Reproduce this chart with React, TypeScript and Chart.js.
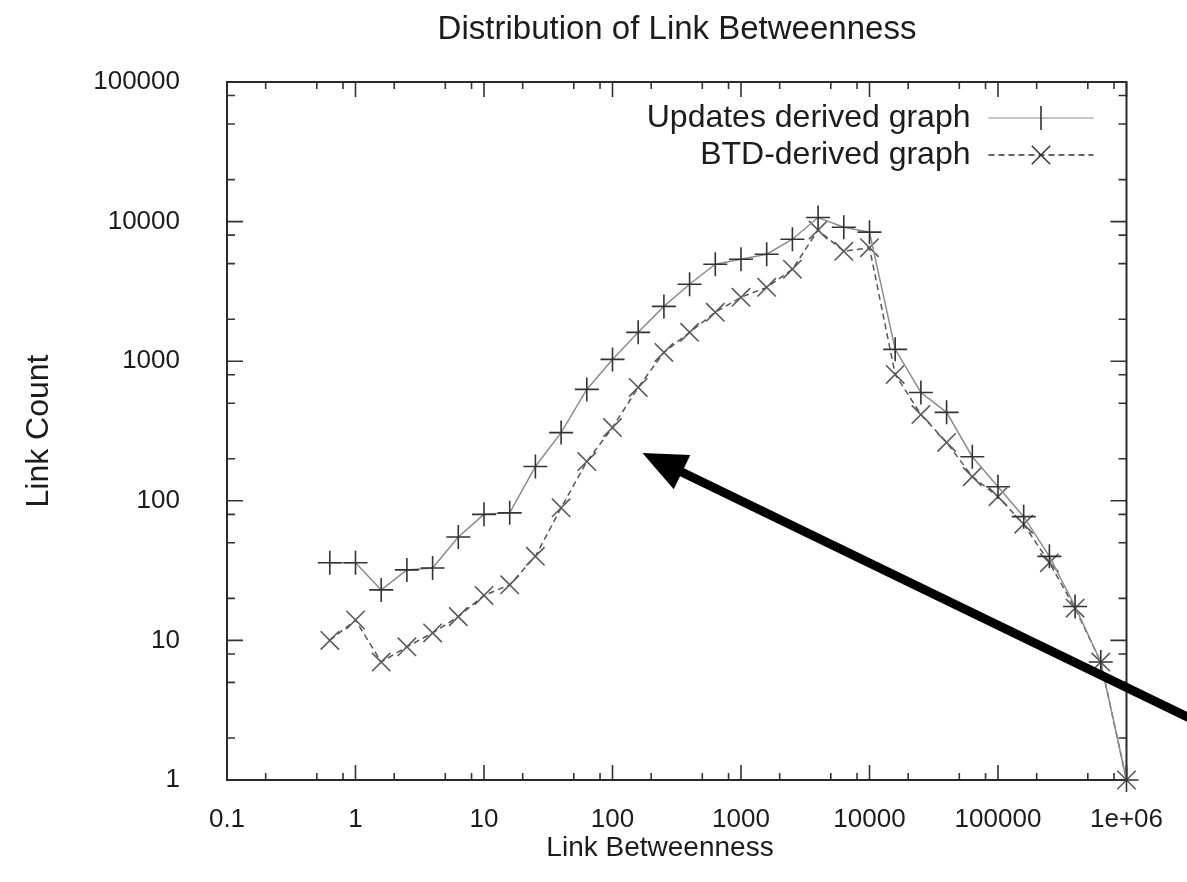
import React, { useEffect, useRef } from 'react';
import { Chart, registerables } from 'chart.js';

Chart.register(...registerables);

// ---- data ----
const BETWEENNESS = [
  0.631, 1, 1.585, 2.512, 3.981, 6.31, 10, 15.85, 25.12, 39.81, 63.1, 100, 158.5, 251.2, 398.1, 631,
  1000, 1585, 2512, 3981, 6310, 10000, 15850, 25120, 39810, 63100, 100000, 158500, 251200, 398100,
  631000, 1000000,
];
const UPDATES_COUNT = [
  36, 36, 23, 32, 33, 55, 80, 82, 176, 308, 628, 1030, 1610, 2470, 3560, 4950,
  5370, 5840, 7480, 10700, 9120, 8400, 1216, 597, 430, 207, 126, 77, 40, 17.5,
  7, 1,
];
const BTD_COUNT = [
  10, 14, 7, 9, 11.3, 14.8, 21, 25, 40, 89, 191, 335, 649, 1156, 1610, 2240,
  2870, 3380, 4560, 8700, 6130, 6500, 804, 415, 262, 149, 107, 68, 36, 17,
  7, 1,
];

const X_TICKS = [0.1, 1, 10, 100, 1000, 10000, 100000, 1000000];
const X_TICK_LABELS = ['0.1', '1', '10', '100', '1000', '10000', '100000', '1e+06'];
const Y_TICKS = [1, 10, 100, 1000, 10000, 100000];
const Y_TICK_LABELS = ['1', '10', '100', '1000', '10000', '100000'];
const MINOR_STEPS = [2, 5, 8];

const SERIES_LABELS = ['Updates derived graph', 'BTD-derived graph'];
const TITLE = 'Distribution of Link Betweenness';
const X_TITLE = 'Link Betweenness';
const Y_TITLE = 'Link Count';

// annotation arrow (data coordinates): tail -> head
const ARROW_TAIL = [4e6, 2.48];
const ARROW_HEAD = [171, 220];

const FONT = "'Liberation Sans', Arial, Helvetica, sans-serif";
const TEXT = '#1c1c1c';

const decorPlugin = {
  id: 'decor',
  beforeDatasetsDraw(chart: any) {
    const { ctx, chartArea: a, scales } = chart;
    const x = scales.x;
    const y = scales.y;
    ctx.save();
    ctx.strokeStyle = '#333';
    ctx.lineWidth = 1.6;
    ctx.beginPath();
    const xTick = (v: number, len: number) => {
      const px = x.getPixelForValue(v);
      ctx.moveTo(px, a.bottom);
      ctx.lineTo(px, a.bottom - len);
      ctx.moveTo(px, a.top);
      ctx.lineTo(px, a.top + len);
    };
    const yTick = (v: number, len: number) => {
      const py = y.getPixelForValue(v);
      ctx.moveTo(a.left, py);
      ctx.lineTo(a.left + len, py);
      ctx.moveTo(a.right, py);
      ctx.lineTo(a.right - len, py);
    };
    X_TICKS.forEach((v, i) => {
      xTick(v, 15);
      if (i < X_TICKS.length - 1) MINOR_STEPS.forEach((m) => xTick(v * m, 7));
    });
    Y_TICKS.forEach((v, i) => {
      yTick(v, 16);
      if (i < Y_TICKS.length - 1) MINOR_STEPS.forEach((m) => yTick(v * m, 8));
    });
    ctx.stroke();
    ctx.lineWidth = 2;
    ctx.strokeStyle = '#2a2a2a';
    ctx.strokeRect(a.left, a.top, a.right - a.left, a.bottom - a.top);
    ctx.restore();
  },
  afterDatasetsDraw(chart: any) {
    const { ctx, scales } = chart;
    const x = scales.x;
    const y = scales.y;
    const tx = x.getPixelForValue(ARROW_TAIL[0]);
    const ty = y.getPixelForValue(ARROW_TAIL[1]);
    const hx = x.getPixelForValue(ARROW_HEAD[0]);
    const hy = y.getPixelForValue(ARROW_HEAD[1]);
    const dx = tx - hx;
    const dy = ty - hy;
    const len = Math.hypot(dx, dy);
    const ux = dx / len;
    const uy = dy / len;
    const headLen = 44;
    const headHalf = 19;
    const bx = hx + ux * headLen;
    const by = hy + uy * headLen;
    ctx.save();
    ctx.strokeStyle = '#000';
    ctx.fillStyle = '#000';
    ctx.lineWidth = 9;
    ctx.beginPath();
    ctx.moveTo(tx, ty);
    ctx.lineTo(bx - ux * 4, by - uy * 4);
    ctx.stroke();
    ctx.beginPath();
    ctx.moveTo(hx, hy);
    ctx.lineTo(bx - uy * headHalf, by + ux * headHalf);
    ctx.lineTo(bx + uy * headHalf, by - ux * headHalf);
    ctx.closePath();
    ctx.fill();
    ctx.restore();
  },
  afterDraw(chart: any) {
    const { ctx, chartArea: a } = chart;
    ctx.save();
    ctx.fillStyle = TEXT;
    ctx.textBaseline = 'middle';
    ctx.textAlign = 'center';
    ctx.font = `33px ${FONT}`;
    ctx.fillText(TITLE, 677, 30);
    ctx.font = `28px ${FONT}`;
    ctx.fillText(X_TITLE, 660, 848);
    ctx.save();
    ctx.translate(39, (a.top + a.bottom) / 2);
    ctx.rotate(-Math.PI / 2);
    ctx.font = `32px ${FONT}`;
    ctx.fillText(Y_TITLE, 0, 0);
    ctx.restore();

    // legend
    const textRight = a.right - 156;
    const sx0 = a.right - 138;
    const sx1 = a.right - 33;
    const mx = (sx0 + sx1) / 2;
    const rows = [a.top + 36, a.top + 73];
    ctx.font = `32px ${FONT}`;
    ctx.textAlign = 'right';
    ctx.fillText(SERIES_LABELS[0], textRight, rows[0]);
    ctx.fillText(SERIES_LABELS[1], textRight, rows[1]);
    ctx.strokeStyle = '#c4c4c4';
    ctx.lineWidth = 2;
    ctx.beginPath();
    ctx.moveTo(sx0, rows[0]);
    ctx.lineTo(sx1, rows[0]);
    ctx.stroke();
    ctx.strokeStyle = '#333';
    ctx.lineWidth = 1.6;
    ctx.beginPath();
    ctx.moveTo(mx, rows[0] - 12);
    ctx.lineTo(mx, rows[0] + 12);
    ctx.stroke();
    ctx.setLineDash([6, 4]);
    ctx.strokeStyle = '#333';
    ctx.lineWidth = 1.5;
    ctx.beginPath();
    ctx.moveTo(sx0, rows[1]);
    ctx.lineTo(sx1, rows[1]);
    ctx.stroke();
    ctx.setLineDash([]);
    const r = 13 * Math.SQRT1_2;
    ctx.beginPath();
    ctx.moveTo(mx - r, rows[1] - r);
    ctx.lineTo(mx + r, rows[1] + r);
    ctx.moveTo(mx + r, rows[1] - r);
    ctx.lineTo(mx - r, rows[1] + r);
    ctx.stroke();
    ctx.restore();
  },
};

export default function App() {
  const ref = useRef<HTMLCanvasElement>(null);
  useEffect(() => {
    document.body.style.margin = '0';
    document.body.style.overflow = 'hidden';
    const canvas = ref.current;
    if (!canvas) return;
    const chart = new Chart(canvas, {
      type: 'line',
      data: {
        datasets: [
          {
            label: SERIES_LABELS[0],
            data: BETWEENNESS.map((v, i) => ({ x: v, y: UPDATES_COUNT[i] })),
            borderColor: '#8c8c8c',
            borderWidth: 1.5,
            pointStyle: 'cross',
            pointRadius: 12,
            pointBorderColor: '#333',
            pointBorderWidth: 1.6,
            pointBackgroundColor: 'transparent',
            tension: 0,
            clip: false,
          } as any,
          {
            label: SERIES_LABELS[1],
            data: BETWEENNESS.map((v, i) => ({ x: v, y: BTD_COUNT[i] })),
            borderColor: '#555',
            borderWidth: 1.5,
            borderDash: [6, 4],
            pointStyle: 'crossRot',
            pointRadius: 13,
            pointBorderColor: '#5a5a5a',
            pointBorderWidth: 1.6,
            pointBackgroundColor: 'transparent',
            tension: 0,
            clip: false,
          } as any,
        ],
      },
      options: {
        responsive: false,
        animation: false,
        events: [],
        layout: { padding: { left: 0, right: 57, top: 82, bottom: 0 } },
        plugins: {
          legend: { display: false },
          title: { display: false },
          tooltip: { enabled: false },
        },
        scales: {
          x: {
            type: 'logarithmic',
            min: 0.1,
            max: 1000000,
            afterBuildTicks: (s: any) => {
              s.ticks = X_TICKS.map((v) => ({ value: v }));
            },
            afterFit: (s: any) => {
              s.height = 102;
            },
            ticks: {
              autoSkip: false,
              maxRotation: 0,
              padding: 24,
              color: TEXT,
              font: { family: FONT, size: 26 },
              callback: (v: any) => X_TICK_LABELS[X_TICKS.indexOf(Number(v))] ?? '',
            },
            grid: { display: false, drawTicks: false },
            border: { display: false },
          },
          y: {
            type: 'logarithmic',
            min: 1,
            max: 100000,
            afterBuildTicks: (s: any) => {
              s.ticks = Y_TICKS.map((v) => ({ value: v }));
            },
            afterFit: (s: any) => {
              s.width = 227;
            },
            ticks: {
              autoSkip: false,
              padding: 47,
              color: TEXT,
              font: { family: FONT, size: 26 },
              callback: (v: any) => Y_TICK_LABELS[Y_TICKS.indexOf(Number(v))] ?? '',
            },
            grid: { display: false, drawTicks: false },
            border: { display: false },
          },
        },
      } as any,
      plugins: [decorPlugin],
    });
    return () => chart.destroy();
  }, []);
  return (
    <div style={{ width: 1187, height: 882, background: '#fff' }}>
      <canvas ref={ref} width={1187} height={882} style={{ display: 'block' }} />
    </div>
  );
}
